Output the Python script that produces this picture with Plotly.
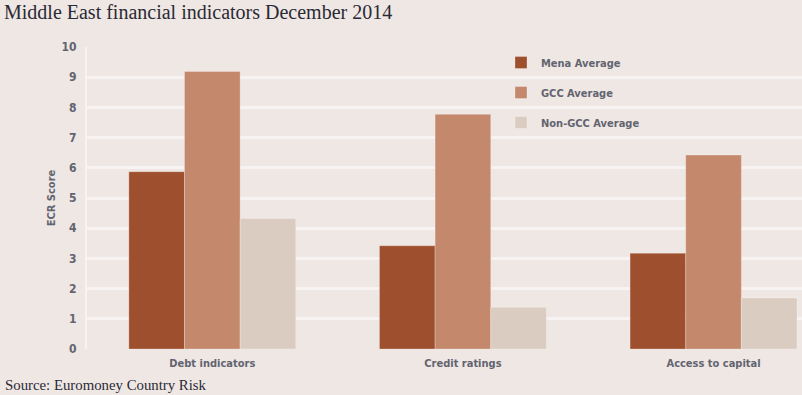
import plotly.graph_objects as go

categories = ["Debt indicators", "Credit ratings", "Access to capital"]
mena_avg = [5.87, 3.42, 3.17]
gcc_avg = [9.19, 7.77, 6.42]
non_gcc_avg = [4.32, 1.38, 1.69]
y_ticks = [0, 1, 2, 3, 4, 5, 6, 7, 8, 9, 10]

BG = "#efe7e4"
GRID = "#f6f3f2"
LABEL = "#62646f"
COND = "Liberation Sans Narrow, DejaVu Sans Condensed, Arial Narrow, sans-serif"
SERIF = "Liberation Serif, DejaVu Serif, serif"

fig = go.Figure()
series = [
    ("Mena Average", mena_avg, "#9e4f2e"),
    ("GCC Average", gcc_avg, "#c4896c"),
    ("Non-GCC Average", non_gcc_avg, "#dbccc1"),
]
for name, vals, col in series:
    fig.add_trace(go.Bar(
        x=categories, y=vals, name=name, legendgroup=name,
        marker=dict(color=col, line=dict(color="rgba(255,255,255,0.25)", width=1)),
    ))

fig.update_layout(
    width=802, height=395,
    margin=dict(l=87, r=0, t=47, b=46),
    paper_bgcolor=BG, plot_bgcolor=BG,
    barmode="group", bargap=0.334, bargroupgap=0,
    showlegend=True,
    legend=dict(
        x=(501 - 87) / 715, y=1 - (48 - 47) / 302, xanchor="left", yanchor="top",
        bgcolor="rgba(0,0,0,0)", traceorder="grouped", tracegroupgap=11,
        font=dict(family=COND, size=11, color=LABEL, weight="bold"),
    ),
    title=dict(
        text="Middle East financial indicators December 2014",
        x=4 / 802, xanchor="left", xref="container",
        y=1 - 12 / 395, yanchor="middle", yref="container",
        font=dict(family=SERIF, size=20, color="#2a2a35"),
    ),
    xaxis=dict(
        range=[-0.5, 2.353], showgrid=False, zeroline=False, showline=False,
        tickfont=dict(family=COND, size=11, color=LABEL, weight="bold"),
        ticks="", ticklen=0, ticklabelstandoff=6,
    ),
    yaxis=dict(
        range=[0, 10], tickvals=y_ticks, showgrid=True, gridcolor=GRID, gridwidth=2.5,
        zeroline=False, showline=True, linecolor=GRID, linewidth=2,
        tickfont=dict(family=COND, size=12, color=LABEL, weight="bold"),
        ticks="", ticklabelstandoff=6,
        title=dict(text="ECR Score", standoff=4,
                   font=dict(family=COND, size=11, color=LABEL, weight="bold")),
    ),
    annotations=[dict(
        text="Source: Euromoney Country Risk", xref="paper", yref="paper",
        x=-84 / 715, y=-(385 - 349) / 302, xanchor="left", yanchor="middle",
        showarrow=False, font=dict(family=SERIF, size=14.8, color="#2a2a35"),
    )],
)

fig.write_html(
    "out.html",
    config={"displayModeBar": False},
    post_script="document.body.style.margin='0';document.body.style.padding='0';",
)
